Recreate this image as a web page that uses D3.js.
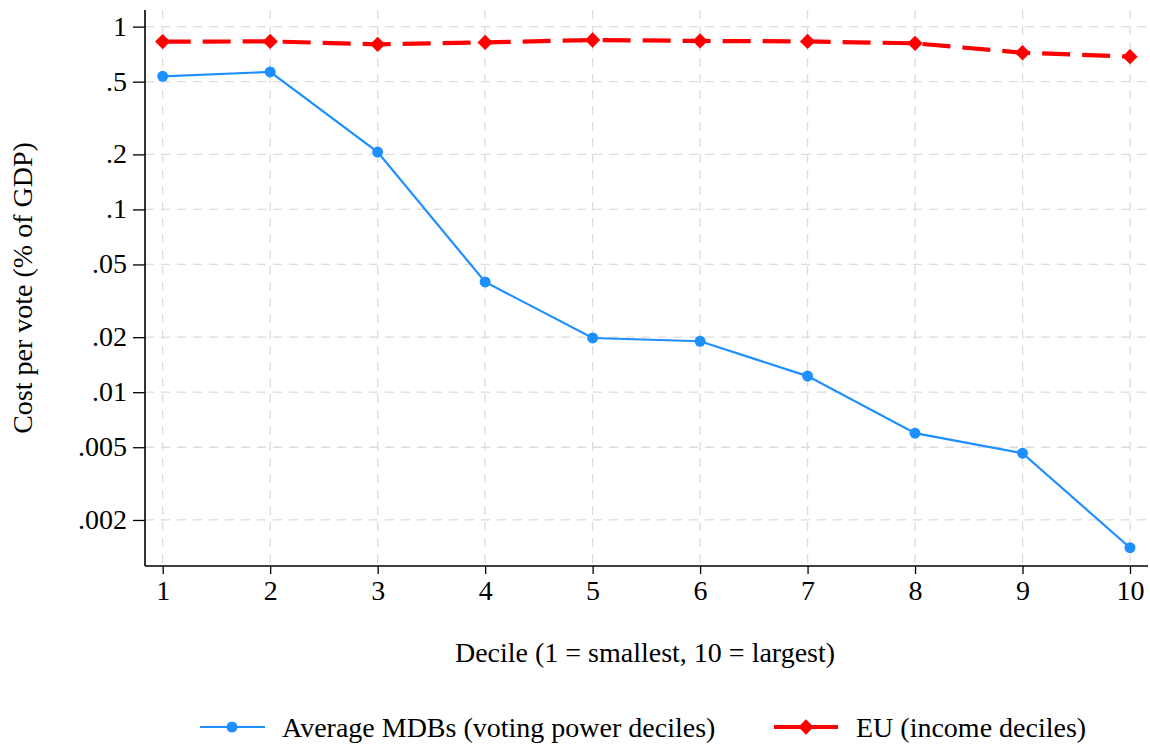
<!DOCTYPE html>
<html>
<head>
<meta charset="utf-8">
<script src="https://cdn.jsdelivr.net/npm/d3@7"></script>
<style>
  body { margin: 0; background: #fff; }
  text { font-family: "Liberation Serif", "Times New Roman", serif; fill: #000; }
</style>
</head>
<body>
<div id="chart"></div>
<script>
// Data
const deciles = [1, 2, 3, 4, 5, 6, 7, 8, 9, 10];
const mdbValues = [0.535, 0.565, 0.206, 0.0401, 0.0198, 0.019, 0.01225, 0.00597, 0.00464, 0.00141];
const euValues = [0.828, 0.83, 0.80, 0.82, 0.845, 0.835, 0.83, 0.81, 0.72, 0.685];
const yTicks = [1, 0.5, 0.2, 0.1, 0.05, 0.02, 0.01, 0.005, 0.002];
const yTickLabels = ["1", ".5", ".2", ".1", ".05", ".02", ".01", ".005", ".002"];

const WIDTH = 1150, HEIGHT = 744;
const FS = "28px";
const plot = { left: 145, right: 1148, top: 10, bottom: 566 };

const svg = d3.select("#chart").append("svg")
  .attr("width", WIDTH).attr("height", HEIGHT);

// Scales
const x = d3.scaleLinear().domain([1, 10]).range([162.7, 1130]);
const y = d3.scaleLog().domain([0.00112, 1.233]).range([plot.bottom, plot.top]);

// Grid
const grid = svg.append("g").attr("stroke", "#dcdcdc").attr("stroke-width", 1.3)
  .attr("stroke-dasharray", "9,7");
grid.selectAll("line.h").data(yTicks).enter().append("line")
  .attr("x1", plot.left).attr("x2", plot.right)
  .attr("y1", d => y(d)).attr("y2", d => y(d));
grid.selectAll("line.v").data(deciles).enter().append("line")
  .attr("x1", d => x(d)).attr("x2", d => x(d))
  .attr("y1", plot.top).attr("y2", plot.bottom);

// Axes
const yAxis = d3.axisLeft(y).tickValues(yTicks)
  .tickFormat((d, i) => yTickLabels[i]).tickSize(12).tickPadding(6);
svg.append("g").attr("transform", `translate(${plot.left},0)`).call(yAxis)
  .call(g => g.select(".domain").attr("d", `M0,${plot.top}V${plot.bottom}`))
  .call(g => g.selectAll("text").style("font-size", FS).attr("dy", "0.3em"));

const xAxis = d3.axisBottom(x).tickValues(deciles).tickSize(8).tickPadding(6);
svg.append("g").attr("transform", `translate(0,${plot.bottom})`).call(xAxis)
  .call(g => g.select(".domain").attr("d", `M${plot.left},0H${plot.right}`))
  .call(g => g.selectAll("text").style("font-size", FS));

svg.selectAll(".domain").attr("stroke", "#000").attr("stroke-width", 1.6);
svg.selectAll(".tick line").attr("stroke", "#000").attr("stroke-width", 1.3);

// Axis titles
svg.append("text").attr("x", 645).attr("y", 662).attr("text-anchor", "middle")
  .style("font-size", FS).text("Decile (1 = smallest, 10 = largest)");
svg.append("text").attr("transform", "translate(32,288) rotate(-90)")
  .attr("text-anchor", "middle").style("font-size", FS)
  .text("Cost per vote (% of GDP)");

// Series
const blue = "#1e8fff", red = "#ff0000";
const mdbData = deciles.map((d, i) => ({ x: d, y: mdbValues[i] }));
const euData = deciles.map((d, i) => ({ x: d, y: euValues[i] }));
const line = d3.line().x(d => x(d.x)).y(d => y(d.y));

svg.append("path").datum(mdbData).attr("fill", "none")
  .attr("stroke", blue).attr("stroke-width", 2.2).attr("d", line);
svg.selectAll("circle.mdb").data(mdbData).enter().append("circle")
  .attr("cx", d => x(d.x)).attr("cy", d => y(d.y)).attr("r", 5.5).attr("fill", blue);

svg.append("path").datum(euData).attr("fill", "none")
  .attr("stroke", red).attr("stroke-width", 4.2).attr("stroke-dasharray", "28,12")
  .attr("d", line);
const diamond = d3.symbol().type(d3.symbolDiamond2).size(150);
svg.selectAll("path.eu").data(euData).enter().append("path")
  .attr("transform", d => `translate(${x(d.x)},${y(d.y)})`)
  .attr("d", diamond).attr("fill", red);

// Legend
const leg = svg.append("g");
leg.append("line").attr("x1", 200).attr("x2", 265).attr("y1", 727).attr("y2", 727)
  .attr("stroke", blue).attr("stroke-width", 2.2);
leg.append("circle").attr("cx", 232).attr("cy", 727).attr("r", 5.5).attr("fill", blue);
leg.append("text").attr("x", 282).attr("y", 737).style("font-size", FS)
  .text("Average MDBs (voting power deciles)");
leg.append("line").attr("x1", 774).attr("x2", 838).attr("y1", 727).attr("y2", 727)
  .attr("stroke", red).attr("stroke-width", 4.2);
leg.append("path").attr("transform", "translate(806,727)").attr("d", diamond).attr("fill", red);
leg.append("text").attr("x", 856).attr("y", 737).style("font-size", FS)
  .text("EU (income deciles)");
</script>
</body>
</html>
